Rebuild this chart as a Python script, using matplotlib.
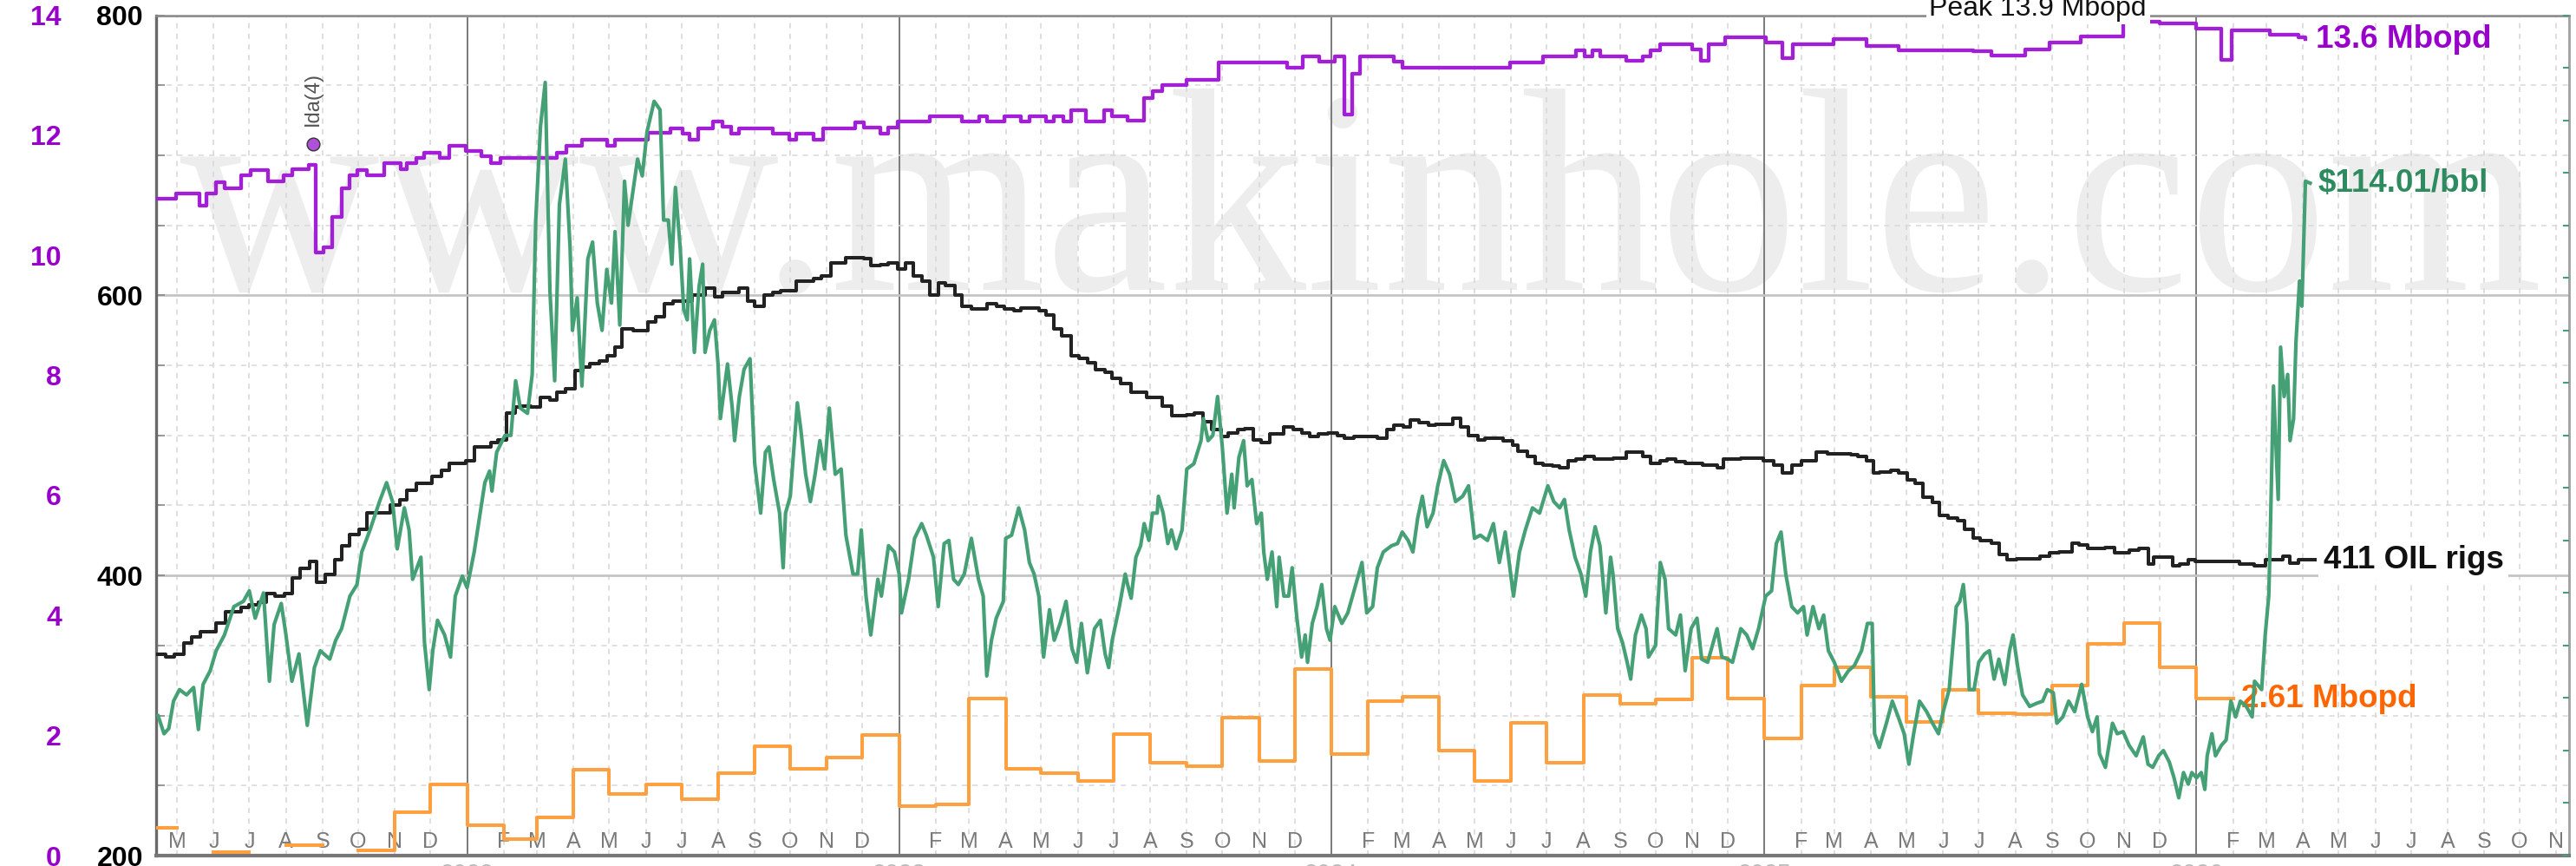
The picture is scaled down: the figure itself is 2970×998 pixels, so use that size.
import numpy as np
import pandas as pd
import matplotlib
matplotlib.use("Agg")
import matplotlib.pyplot as plt
import matplotlib.dates as mdates
import matplotlib.ticker as mticker
import matplotlib.transforms as mtrans
from matplotlib.textpath import TextPath
from matplotlib.patches import PathPatch
from matplotlib.font_manager import FontProperties

plt.rcParams['font.family'] = ['Liberation Sans', 'DejaVu Sans']

# ---------------- data (day offsets are days since REF) ----------------
REF = "2022-01-01"

oil_pairs = [  # WTI $/bbl
    (-261,63.3),(-256,61.6),(-252,62.1),(-248,64.7),(-243,65.8),(-237,65.3),(-231,66.0),(-227,62.0),
    (-223,66.3),(-217,67.6),(-212,69.5),(-205,71.0),(-197,73.7),(-189,74.2),(-184,75.2),(-179,72.6),
    (-172,75.0),(-167,66.6),(-163,72.0),(-157,74.0),(-153,71.0),(-148,66.6),(-142,69.2),(-135,62.4),
    (-129,67.9),(-124,69.5),(-116,68.7),(-111,70.5),(-106,71.6),(-99,74.7),(-93,75.8),(-89,78.9),
    (-82,81.0),(-74,83.7),(-68,85.5),(-63,83.7),(-59,79.2),(-53,83.1),(-49,81.0),(-46,76.3),
    (-39,78.4),(-36,70.3),(-32,65.8),(-29,69.5),(-25,72.4),(-19,71.0),(-14,68.9),(-10,74.7),
    (-4,76.6),(0,75.5),(6,78.9),(11,82.6),(15,85.5),(19,86.6),(21,84.7),(25,88.4),(32,90.0),
    (37,90.0),(41,95.2),(45,92.6),(51,92.1),(55,95.8),(58,110.5),(62,119.4),(66,123.6),(70,103.7),
    (74,95.2),(78,112.0),(83,116.3),(87,107.9),(89,100.0),(93,103.1),(97,94.7),(102,106.8),
    (106,108.4),(110,102.6),(114,100.0),(118,105.8),(122,102.6),(125,109.4),(129,100.5),(133,114.2),
    (136,110.0),(144,116.3),
    (148,114.7),(152,118.9),(158,121.8),(163,121.0),(166,110.5),(170,110.5),(173,106.3),(176,113.6),
    (180,107.9),(183,102.0),(186,101.0),(188,106.8),(192,97.9),(196,104.2),(199,106.3),(201,97.9),
    (205,100.0),(209,101.0),(212,96.8),(214,91.6),(220,96.8),(224,92.6),(226,89.5),(230,93.7),
    (234,96.3),(239,97.3),(243,87.3),(248,82.6),(252,88.4),(255,88.9),(259,85.8),(264,82.6),
    (267,77.4),(269,82.6),(273,84.2),(279,93.1),(282,90.5),(286,86.3),(290,83.7),(294,86.3),
    (298,89.5),(302,86.8),(306,92.6),(311,86.3),(316,86.8),(320,80.5),(326,76.8),(330,76.8),
    (333,81.0),(337,74.7),(341,71.0),(347,76.3),(350,74.7),(356,79.5),(361,78.9),(365,76.8),
    (367,73.1),(373,76.3),(378,80.2),(384,81.6),(388,80.5),(394,78.4),(398,73.7),(403,79.7),
    (407,80.0),(411,76.3),(415,75.8),(420,76.8),(426,80.2),(432,76.3),(436,74.7),(439,67.1),
    (443,70.5),(447,72.6),(453,74.2),(455,80.2),(460,80.5),(466,83.1),(471,81.0),(475,77.9),
    (479,76.8),(483,74.7),(487,68.9),(492,73.4),(496,70.5),(501,72.1),(506,74.2),(511,69.7),
    (515,68.4),(519,72.1),(524,67.4),(530,71.6),(535,72.4),(539,69.2),(542,67.9),(545,70.5),
    (551,73.7),(556,76.8),
    (558,75.8),(561,74.5),(565,78.4),(569,79.5),(572,81.6),(576,80.0),(579,82.6),(583,82.6),
    (584,84.2),(588,82.6),(592,79.7),(595,81.0),(599,79.2),(604,81.0),(608,86.8),(614,87.3),
    (620,89.5),(622,91.6),(626,89.5),(630,90.0),(634,93.7),(638,88.9),(642,82.6),(646,86.3),
    (648,83.1),(652,87.9),(656,89.5),(659,85.2),(663,85.8),(667,81.6),(671,82.6),(673,78.9),
    (676,76.3),(680,78.9),(684,73.7),(686,78.4),(690,74.7),(694,74.7),(697,77.4),(701,72.6),
    (705,68.9),(708,71.0),(710,68.4),(714,72.1),(718,73.7),(722,75.8),(726,71.6),(729,70.5),
    (733,73.7),(739,72.1),(744,73.1),(748,74.7),(752,76.3),(756,77.9),(760,73.1),(765,73.7),
    (769,77.4),(774,78.9),(781,79.5),(786,79.7),(790,80.8),(795,80.0),(799,78.9),(803,82.1),
    (807,84.2),(811,81.3),(816,82.6),(820,85.2),(825,87.6),(830,86.3),(835,83.7),(841,84.2),
    (846,85.2),(851,80.2),(856,80.5),(862,80.0),(867,81.6),(872,77.9),(877,80.8),(884,74.7),
    (889,78.9),(894,81.0),(900,83.1),(906,82.6),(913,85.2),(918,83.7),(923,83.1),(927,83.9),
    (931,81.0),(936,78.4),(941,76.8),(945,74.7),(949,78.9),(953,81.3),(957,79.5),(962,73.1),
    (966,78.4),
    (968,76.8),(972,71.6),(976,70.3),(980,68.4),(983,66.8),(987,71.0),(992,72.9),(996,71.6),
    (998,68.9),(1004,70.0),(1008,77.9),(1012,76.3),(1015,71.6),(1021,71.0),(1025,72.9),(1029,67.6),
    (1034,71.6),(1039,72.6),(1043,68.7),(1048,68.4),(1052,70.0),(1056,71.6),(1060,68.9),(1065,68.7),
    (1069,68.4),(1076,71.6),(1081,71.0),(1086,69.7),(1091,71.6),(1097,74.7),(1102,75.2),(1106,79.7),
    (1110,80.8),(1114,76.8),(1119,73.7),(1124,73.1),(1129,73.7),(1132,71.0),(1137,73.7),(1142,71.6),
    (1146,72.9),(1150,69.5),(1155,68.4),(1161,66.6),(1167,67.6),(1172,68.1),(1178,69.5),(1183,72.1),
    (1187,72.1),(1189,61.6),(1193,60.3),(1199,62.6),(1204,64.7),(1209,63.2),(1214,61.6),(1218,58.7),
    (1222,61.6),(1227,64.7),(1233,63.7),(1238,62.6),(1243,61.6),(1247,63.7),(1252,65.8),(1258,73.7),
    (1261,74.2),(1264,75.8),(1267,72.1),(1269,65.8),(1273,65.8),(1277,68.4),(1282,69.2),(1286,69.5),
    (1290,66.8),(1294,68.7),(1299,66.3),(1303,69.5),(1306,71.0),(1310,67.9),(1314,65.3),(1320,64.2),
    (1326,64.5),(1331,64.7),(1335,65.8),(1340,65.5),(1343,62.6),(1348,63.2),(1353,64.7),(1358,63.7),
    (1364,66.3),(1369,63.2),(1373,61.8),(1377,63.2),
    (1379,59.7),(1384,58.4),(1390,62.6),(1394,61.6),(1399,61.8),(1404,60.5),(1410,59.5),(1416,61.3),
    (1420,58.7),(1424,58.4),(1429,59.5),(1433,60.0),(1438,58.9),(1442,57.4),(1446,55.5),(1450,57.9),
    (1454,56.8),(1457,57.9),(1461,57.4),(1465,57.9),(1468,56.3),(1470,59.5),(1474,61.6),(1477,59.5),
    (1482,60.5),(1486,61.0),(1490,64.7),(1494,63.2),(1498,64.7),(1503,64.2),(1508,63.2),(1510,66.6),
    (1516,65.8),(1519,71.0),(1522,74.7),(1523,78.9),(1526,94.7),(1530,83.9),(1532,98.4),(1535,93.7),
    (1538,95.8),(1540,89.5),(1543,91.6),(1545,98.9),(1548,104.7),(1550,102.3),(1553,114.2),(1557,114.01),
]

rig_pairs = [  # weekly oil rig count (step changes)
    (-263,344),(-255,342),(-247,344),(-239,352),(-233,356),(-225,360),(-212,366),(-204,374),
    (-191,377),(-184,379),(-176,381),(-170,387),(-162,385),(-154,387),(-148,398),(-141,405),
    (-133,410),(-127,395),(-120,401),(-112,411),(-106,421),(-99,429),(-91,433),(-85,445),
    (-65,450),(-57,454),(-51,461),(-43,466),(-30,471),(-22,475),(-15,480),(-1,482),(6,492),
    (20,495),(26,497),(33,516),(41,520),(46,521),(54,520),(62,527),(70,525),(76,531),(83,533),
    (91,546),(98,549),(104,551),(112,553),(118,557),(125,563),(131,576),(140,575),
    (153,581),(159,585),(167,594),(174,596),(190,600),(201,605),(209,599),(216,602),(230,605),
    (237,596),(243,592),(251,600),(258,602),(265,603),(278,610),(293,612),(299,614),(307,623),
    (320,627),(335,626),(341,621),(349,622),(356,623),(364,619),(370,623),(377,614),(384,610),
    (391,600),(398,609),(404,607),(412,600),(418,592),(426,590),(439,594),(447,592),(454,590),
    (462,589),(468,591),(483,589),(489,586),(496,576),(502,571),(510,557),(517,555),(524,552),
    (531,547),(539,545),(545,541),(552,537),
    (561,531),(574,527),(587,521),(595,514),(608,515),(614,516),(622,510),(629,504),(637,499),
    (643,502),(651,504),(657,505),(664,497),(671,495),(678,501),(690,506),(698,504),(705,502),
    (712,499),(719,501),(727,502),(735,500),(741,498),(749,499),(769,498),(777,504),(783,507),
    (791,506),(797,511),(804,509),(812,507),(818,508),(833,512),(839,506),(846,500),(854,497),
    (860,498),(875,496),(883,493),(888,489),(896,485),(902,480),(909,479),(917,478),(923,477),
    (930,482),(937,483),(944,485),(952,483),
    (968,484),(979,488),(993,485),(1000,480),(1008,482),(1014,483),(1021,481),(1029,480),
    (1044,479),(1056,477),(1061,483),(1076,484),(1095,482),(1104,479),(1111,473),(1119,479),
    (1127,482),(1140,488),(1149,487),(1169,486),(1175,485),(1182,482),(1188,473),(1193,474),
    (1203,475),(1209,473),(1217,468),(1223,466),(1230,456),(1238,452),(1244,443),(1251,441),
    (1259,439),(1265,433),(1272,427),(1278,425),(1288,423),(1294,415),(1301,411),(1309,412),
    (1329,414),(1337,416),(1345,417),(1356,423),(1362,422),(1369,419),
    (1384,420),(1392,416),(1404,418),(1412,419),(1420,408),(1425,413),(1441,407),(1447,408),
    (1454,411),(1460,410),(1497,408),(1510,407),(1519,411),(1534,414),(1540,409),(1547,411),
    (1561,411),
]

prod_pairs = [  # US crude production, Mbopd (weekly steps)
    (-263,10.94),(-246,11.03),(-226,10.82),(-220,11.03),(-212,11.22),(-205,11.12),(-191,11.33),
    (-183,11.42),(-168,11.23),(-155,11.33),(-148,11.44),(-134,11.51),(-128,10.04),(-121,10.13),
    (-114,10.64),(-106,11.12),(-99,11.33),(-93,11.42),(-85,11.33),(-70,11.53),(-56,11.44),
    (-51,11.53),(-43,11.62),(-36,11.71),(-23,11.62),(-15,11.82),(-1,11.74),(12,11.65),(20,11.54),
    (28,11.62),(76,11.71),(84,11.82),(97,11.92),(118,11.82),(125,11.92),
    (153,12.04),(172,12.11),(182,12.02),(188,11.92),(195,12.11),(208,12.23),(216,12.14),
    (223,12.03),(230,12.11),(258,12.03),(272,11.92),(278,12.02),(293,11.92),(301,12.11),
    (328,12.22),(335,12.13),(349,12.03),(356,12.13),(364,12.23),(391,12.32),(418,12.23),
    (433,12.32),(439,12.23),(454,12.32),(468,12.23),(475,12.32),(489,12.23),(496,12.32),
    (504,12.23),(510,12.41),(523,12.23),(538,12.41),(545,12.32),
    (558,12.25),(572,12.62),(579,12.73),(587,12.83),(608,12.92),(635,13.21),(693,13.12),
    (706,13.32),(720,13.23),(733,13.32),(741,12.34),(748,13.03),(754,13.32),(783,13.23),
    (790,13.12),(881,13.21),(909,13.32),(937,13.42),(944,13.32),(951,13.42),(957,13.32),
    (979,13.24),(993,13.32),(1000,13.42),(1008,13.52),(1035,13.43),(1042,13.24),(1049,13.52),
    (1063,13.63),(1097,13.54),(1111,13.28),(1120,13.52),(1154,13.60),(1182,13.49),(1209,13.42),
    (1272,13.40),(1288,13.33),(1316,13.43),(1337,13.54),(1363,13.65),
    (1399,13.89),(1430,13.86),(1461,13.77),(1482,13.26),(1491,13.74),(1523,13.67),(1547,13.63),
    (1553,13.60),
]

orange_first_month = "2021-04"
orange_mbopd = [  # monthly, Apr 2021 .. Jan 2026 (nan = not shown)
    0.46, np.nan, 0.06, np.nan, 0.17, np.nan, 0.09, 0.72, 1.18,
    0.51, 0.28, 0.63, 1.43, 1.03, 1.18, 0.94, 1.38, 1.82, 1.45, 1.64, 2.01,
    0.83, 0.85, 2.62, 1.45, 1.38, 1.24, 2.03, 1.54, 1.49, 2.30, 1.58, 3.11,
    1.69, 2.58, 2.65, 1.75, 1.24, 2.21, 1.54, 2.67, 2.53, 2.60, 3.30, 2.62,
    1.95, 2.84, 3.13, 2.64, 2.23, 2.76, 2.37, 2.35, 2.84, 3.53, 3.87, 3.13,
    2.61,
]

rig_ticks = [200, 400, 600, 800]
rig_minor = [250, 300, 350, 450, 500, 550, 650, 700, 750]
prod_ticks = [0, 2, 4, 6, 8, 10, 12, 14]
price_ticks = list(range(50, 131, 5))
month_letters = "JFMAMJJASOND"
years = [2022, 2023, 2024, 2025, 2026]

ida_day, ida_value, ida_text = -130, 11.86, "Ida(4)"
peak_day, peak_text = 1327, "Peak 13.9 Mbopd"
x_start_day, x_end_day = -262.7, 1775.7

PURPLE, PURPLE_T = "#a11fd4", "#9900cc"
GREEN, GREEN_T = "#45a175", "#2e8b5f"
ORANGE, ORANGE_T = "#ffa040", "#ff6600"
BLACK = "#222222"

# ---------------- helpers ----------------
ref_num = mdates.date2num(pd.Timestamp(REF).to_pydatetime())
def dnum(days):
    return ref_num + np.asarray(days, dtype=float)

oil_days, oil_price = map(np.array, zip(*oil_pairs))
rig_days, rig_count = map(np.array, zip(*rig_pairs))
prod_days, prod_val = map(np.array, zip(*prod_pairs))
om = pd.date_range(orange_first_month + "-01", periods=len(orange_mbopd) + 1, freq="MS")
orange_x = mdates.date2num(om.to_pydatetime())
orange_y = np.array(orange_mbopd + [orange_mbopd[-1]])

# ---------------- figure ----------------
W, H = 2970, 998
fig = plt.figure(figsize=(W / 100, H / 100), dpi=100)
ax = fig.add_axes([180 / W, 12 / H, 2782 / W, 968.5 / H])
ax.set_xlim(dnum(x_start_day), dnum(x_end_day))
ax.set_ylim(200, 800)

# watermark
fp = FontProperties(family=['Liberation Serif', 'DejaVu Serif'])
tp = TextPath((0, 0), "www.makinhole.com", size=100, prop=fp)
ext = tp.get_extents()
sx = (2926 - 208) / ext.width
sy = (H - 102 - (H - 334)) / ext.y1
tr = mtrans.Affine2D().translate(-ext.x0, 0).scale(sx, sy).translate(208, H - 334)
wm = PathPatch(tr.transform_path(tp), facecolor="#ededed", edgecolor="none",
               transform=mtrans.IdentityTransform(), zorder=0.2)
ax.add_artist(wm)

# grid
ax.set_axisbelow(True)
ax.xaxis.set_major_locator(mdates.YearLocator())
ax.xaxis.set_minor_locator(mdates.MonthLocator(bymonth=range(2, 13)))
ax.yaxis.set_minor_locator(mticker.FixedLocator(rig_minor))
ax.grid(True, which="major", axis="x", color="#7a7a7a", lw=1.4)
ax.grid(True, which="minor", axis="x", color="#d6d6d6", lw=1.1, ls=(0, (4, 4)))
ax.grid(True, which="major", axis="y", color="#c4c4c4", lw=2.0)
ax.grid(True, which="minor", axis="y", color="#d9d9d9", lw=1.1, ls=(0, (4, 4)))
ax.tick_params(axis="x", which="both", length=0, labelbottom=False)
ax.set_yticks(rig_ticks, labels=[str(t) for t in rig_ticks], fontweight="bold",
              fontsize=23, color="black")
ax.tick_params(axis="y", which="both", direction="in", length=7, width=1.2,
               color="#888888", pad=10.8)

ax.spines["left"].set(color="#6a6a6a", linewidth=2.4)
ax.spines["bottom"].set(color="#777777", linewidth=3)
ax.spines["top"].set(color="#8a8a8a", linewidth=1.8)
ax.spines["right"].set(color="#a0a0a0", linewidth=2)

# month letters and years
blend = mtrans.blended_transform_factory(ax.transData, ax.transAxes)
months = pd.date_range("2021-05-01", "2026-11-01", freq="MS")
for m in months:
    if m.month == 1:
        continue
    ax.text(mdates.date2num(m.to_pydatetime()), 0.0165, month_letters[m.month - 1],
            transform=blend, ha="center", va="center", fontsize=18, color="#7a7a7a")
for y in years:
    ax.text(mdates.date2num(pd.Timestamp(f"{y}-01-01").to_pydatetime()), -0.009, str(y),
            transform=blend, ha="center", va="top", fontsize=20, color="#bbbbbb",
            clip_on=False)

# rigs
ax.plot(dnum(rig_days), rig_count, drawstyle="steps-post", color=BLACK, lw=2.9, zorder=3)
ax.annotate("411 OIL rigs", xy=(dnum(rig_days[-1]), rig_count[-1]), xytext=(7.2, 0),
            textcoords="offset points", ha="left", va="center", fontsize=26.5,
            fontweight="bold", color="#111111", annotation_clip=False,
            bbox=dict(boxstyle="square,pad=0.15", facecolor="white", edgecolor="none"))

# production axis (purple + orange)
ax_p = ax.twinx()
ax_p.set_ylim(0, 14)
ax_p.yaxis.tick_left()
ax_p.set_yticks(prod_ticks, labels=[str(t) for t in prod_ticks], fontweight="bold",
                fontsize=23, color=PURPLE_T)
ax_p.tick_params(axis="y", length=0, pad=78.5)
for s in ax_p.spines.values():
    s.set_visible(False)

ax_p.plot(orange_x, orange_y, drawstyle="steps-post", color=ORANGE, lw=2.9, zorder=2)
ax_p.annotate("2.61 Mbopd", xy=(orange_x[-1], orange_y[-1]), xytext=(6.5, 0),
              textcoords="offset points", ha="left", va="center", fontsize=26.5,
              fontweight="bold", color=ORANGE_T, annotation_clip=False, zorder=1)
ax_p.plot(dnum(prod_days), prod_val, drawstyle="steps-post", color=PURPLE, lw=3.1, zorder=3)
ax_p.annotate("13.6 Mbopd", xy=(dnum(prod_days[-1]), prod_val[-1]), xytext=(8.6, 0),
              textcoords="offset points", ha="left", va="center", fontsize=26.5,
              fontweight="bold", color=PURPLE_T, annotation_clip=False)
ax_p.plot([dnum(ida_day)], [ida_value], "o", ms=10.6, mfc="#b050d8", mec="#333333",
          mew=1.0, zorder=4)
ax_p.annotate(ida_text, xy=(dnum(ida_day), ida_value), xytext=(0, 14.5),
              textcoords="offset points", rotation=90, ha="center", va="bottom",
              fontsize=17, color="#555555")
blend_p = mtrans.blended_transform_factory(ax_p.transData, ax_p.transAxes)
ax_p.text(dnum(peak_day), 1.0, peak_text, transform=blend_p, ha="center", va="baseline",
          fontsize=23, color="#111111", clip_on=False, zorder=6,
          bbox=dict(boxstyle="square,pad=0.12", facecolor="white", edgecolor="none"))

# price axis (green)
ax_g = ax.twinx()
ax_g.set_ylim(50, 130)
ax_g.set_yticks(price_ticks)
ax_g.tick_params(axis="y", direction="in", length=5, width=1.5, color=GREEN,
                 labelright=False, right=True, left=False)
for s in ax_g.spines.values():
    s.set_visible(False)
ax_g.plot(dnum(oil_days), oil_price, color=GREEN, lw=3.0, zorder=3)
ax_g.annotate(r"\$114.01/bbl", xy=(dnum(oil_days[-1]), oil_price[-1]), xytext=(6.5, 0),
              textcoords="offset points", ha="left", va="center", fontsize=26.5,
              fontweight="bold", color=GREEN_T, annotation_clip=False)

ax.set_xlim(dnum(x_start_day), dnum(x_end_day))
fig.savefig("out.png", dpi=100)
